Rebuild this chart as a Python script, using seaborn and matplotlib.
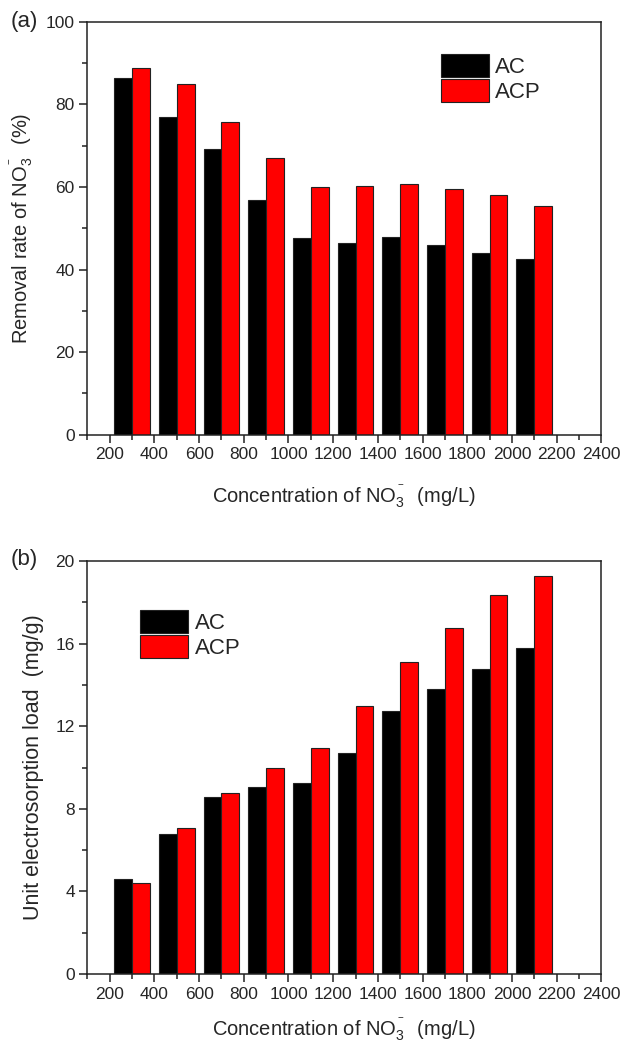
import matplotlib
matplotlib.use("Agg")
import matplotlib.pyplot as plt
import seaborn as sns
import pandas as pd
import numpy as np
from matplotlib.ticker import MultipleLocator
from matplotlib.patches import Patch

# ---- data ----
concentration = [300, 500, 700, 900, 1100, 1300, 1500, 1700, 1900, 2100]
removal_ac = [86.4, 76.9, 69.2, 56.8, 47.6, 46.5, 47.9, 46.0, 44.0, 42.5]
removal_acp = [88.8, 85.0, 75.6, 66.9, 60.1, 60.2, 60.7, 59.4, 58.1, 55.3]
load_ac = [4.58, 6.78, 8.57, 9.04, 9.24, 10.7, 12.72, 13.81, 14.77, 15.79]
load_acp = [4.41, 7.06, 8.78, 10.0, 10.97, 13.0, 15.1, 16.78, 18.37, 19.3]
series = ["AC", "ACP"]
colors = {"AC": "#000000", "ACP": "#ff0000"}
xticks = list(range(200, 2401, 200))

sns.set_style("white")
plt.rcParams["font.family"] = ["Liberation Sans", "DejaVu Sans"]
plt.rcParams["mathtext.fontset"] = "custom"
plt.rcParams["mathtext.rm"] = "Liberation Sans"
plt.rcParams["mathtext.it"] = "Liberation Sans"

fig = plt.figure(figsize=(6.22, 10.44), dpi=100)
ax_a = fig.add_axes([0.1404, 0.5836, 0.8264, 0.3956])
ax_b = fig.add_axes([0.1404, 0.0670, 0.8264, 0.3956])


def make_df(ac, acp):
    return pd.DataFrame({
        "conc": concentration * 2,
        "value": list(ac) + list(acp),
        "sample": ["AC"] * len(ac) + ["ACP"] * len(acp),
    })


def draw(ax, df, ymax, ymajor, ylabel, ylabel_size, xlabel_pad, legend_anchor):
    sns.barplot(data=df, x="conc", y="value", hue="sample", hue_order=series,
                palette=colors, native_scale=True, width=0.8, dodge=True,
                edgecolor="#222222", linewidth=0.8, saturation=1, ax=ax,
                legend=False)
    ax.set_xlim(100, 2400)
    ax.set_ylim(0, ymax)
    ax.set_xticks(xticks)
    ax.set_xticklabels([str(t) for t in xticks])
    ax.xaxis.set_minor_locator(MultipleLocator(100))
    ax.yaxis.set_major_locator(MultipleLocator(ymajor))
    ax.yaxis.set_minor_locator(MultipleLocator(ymajor / 2))
    ax.tick_params(axis="both", which="major", direction="out", length=6,
                   width=1.1, labelsize=12.5, color="#222222", pad=3,
                   bottom=True, left=True, top=False, right=False)
    ax.tick_params(axis="both", which="minor", direction="out", length=3.5,
                   width=1.1, color="#222222",
                   bottom=True, left=True, top=False, right=False)
    for s in ax.spines.values():
        s.set_linewidth(1.1)
        s.set_color("#222222")
    ax.set_xlabel(r"Concentration of NO$_3^{^-}$  (mg/L)", fontsize=14.5,
                  labelpad=xlabel_pad)
    ax.set_ylabel(ylabel, fontsize=ylabel_size, labelpad=8)
    handles = [Patch(facecolor=colors[s], edgecolor="#222222", linewidth=0.8, label=s)
               for s in series]
    ax.legend(handles=handles, loc="upper left", bbox_to_anchor=legend_anchor,
              frameon=False, fontsize=16, handlelength=2.15, handleheight=1.2,
              labelspacing=0.05, handletextpad=0.3, borderpad=0, borderaxespad=0)


draw(ax_a, make_df(removal_ac, removal_acp), 100, 20,
     r"Removal rate of NO$_3^{^-}$  (%)", 14.5, 15, (0.688, 0.922))
draw(ax_b, make_df(load_ac, load_acp), 20, 4,
     "Unit electrosorption load  (mg/g)", 15.5, 11, (0.1025, 0.882))

fig.text(11 / 622, 1 - 21 / 1044, "(a)", fontsize=16, va="center", ha="left")
fig.text(11 / 622, 1 - 559 / 1044, "(b)", fontsize=16, va="center", ha="left")

fig.savefig("out.png", dpi=100, facecolor="white")
